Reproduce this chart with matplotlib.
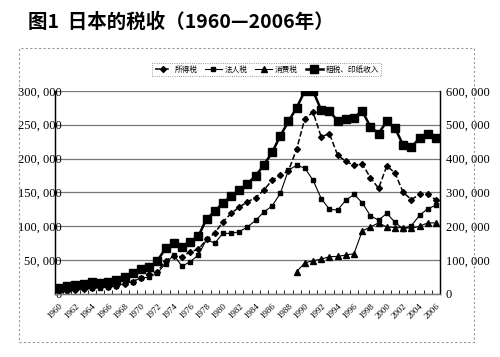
import matplotlib
matplotlib.use('Agg')
import matplotlib.pyplot as plt
import numpy as np
from matplotlib.patches import Rectangle

plt.rcParams['font.family'] = ['Noto Sans CJK SC', 'DejaVu Sans']

years = list(range(1960, 2007))

# 所得税 (left axis)
income_tax = [3.9, 4.9, 6.0, 6.9, 8.2, 9.7, 10.1, 12.1, 15.0, 18.3,
              24.3, 29.1, 33.0, 49.2, 56.0, 55.0, 62.4, 66.0, 80.5, 90.0,
              106.5, 119.0, 128.5, 136.0, 142.5, 153.5, 168.0, 175.0, 182.0, 214.0,
              259.0, 268.5, 232.0, 237.0, 205.0, 196.0, 190.0, 192.0, 172.0, 156.0,
              189.0, 179.0, 150.0, 139.5, 147.0, 147.0, 139.0]
# 法人税 (left axis)
corp_tax = [5.8, 7.2, 8.0, 8.2, 9.3, 9.3, 9.9, 12.4, 15.5, 18.2,
            24.0, 24.5, 31.0, 45.0, 57.5, 41.0, 47.6, 57.5, 80.5, 75.0,
            89.5, 89.5, 92.0, 99.0, 109.0, 121.0, 130.0, 148.5, 183.0, 190.0,
            186.0, 168.0, 141.0, 125.0, 124.0, 138.5, 147.0, 135.0, 115.5, 109.0,
            119.0, 106.0, 96.0, 101.0, 116.0, 126.0, 131.0]
# 消费税 (left axis), from 1989
cons_tax = [np.nan] * 29 + [33.0, 46.0, 49.0, 51.6, 55.0, 55.5, 57.5, 59.5, 93.0, 99.0,
                            105.0, 99.0, 98.0, 98.0, 97.0, 100.0, 105.0, 105.0]
# 租税、印纸收入 (right axis)
total_tax = [18.0, 23.6, 26.0, 30.2, 34.2, 32.8, 34.9, 42.5, 51.0, 61.2,
             73.0, 79.3, 98.0, 135.0, 151.0, 138.0, 154.0, 171.0, 221.0, 244.0,
             269.0, 289.0, 307.0, 326.0, 349.0, 381.0, 418.0, 467.0, 510.0, 550.0,
             600.0, 600.0, 543.0, 541.0, 511.0, 518.0, 521.0, 541.0, 494.0, 474.0,
             510.0, 490.0, 440.0, 434.0, 460.0, 473.0, 461.0]

income_tax = np.array(income_tax) * 1000
corp_tax = np.array(corp_tax) * 1000
cons_tax = np.array(cons_tax) * 1000
total_tax = np.array(total_tax) * 1000

x = np.arange(len(years))

fig = plt.figure(figsize=(5, 3.57), dpi=100)
fig.text(0.056, 0.938, '图1  日本的税收（1960—2006年）', fontsize=14,
         fontweight='bold', ha='left', va='center')

fig.add_artist(Rectangle((0.038, 0.042), 0.91, 0.824, transform=fig.transFigure,
                         fill=False, ec='#999999', lw=0.8, ls=(0, (2, 2))))

ax = fig.add_axes([0.11, 0.1765, 0.77, 0.569])
ax2 = ax.twinx()

ax.plot(x, income_tax, color='black', ls='--', lw=1.1, marker='D', ms=3, label='所得税')
ax.plot(x, corp_tax, color='black', ls='-', lw=0.8, marker='s', ms=3.2, label='法人税')
ax.plot(x, cons_tax, color='black', ls='-', lw=0.8, marker='^', ms=5, label='消费税')
ax2.plot(x, total_tax, color='black', ls='-', lw=1.8, marker='s', ms=5.5, label='租税、印纸收入')

ax.set_xlim(-0.5, len(years) - 0.5)
ax.set_ylim(0, 300000)
ax2.set_ylim(0, 600000)

yt = np.arange(0, 300001, 50000)
ax.set_yticks(yt)
ax.set_yticklabels([f'{v:,}'.replace(',', ', ') for v in yt], family='Liberation Serif', fontsize=9)
yt2 = np.arange(0, 600001, 100000)
ax2.set_yticks(yt2)
ax2.set_yticklabels([f'{v:,}'.replace(',', ', ') for v in yt2], family='Liberation Serif', fontsize=9)
ax.tick_params(axis='y', length=0, pad=-5)
ax2.tick_params(axis='y', length=0, pad=4)

ax.set_xticks(x[::2])
ax.set_xticklabels([str(y) for y in years[::2]], rotation=45, ha='right',
                   rotation_mode='anchor', fontsize=6.5, family='Liberation Serif')
ax.set_xticks(np.arange(-0.5, len(years), 1), minor=True)
ax.tick_params(axis='x', which='major', length=0, pad=6)
ax.tick_params(axis='x', which='minor', length=3, direction='in', width=0.6)

ax.grid(axis='y', color='#777777', lw=0.9)
ax.set_axisbelow(True)
for a in (ax, ax2):
    a.spines['top'].set_visible(False)
    a.spines['left'].set_linewidth(0.9)
    a.spines['right'].set_linewidth(0.9)
    a.spines['bottom'].set_linewidth(0.9)
    a.spines['bottom'].set_color('#777777')

h1, l1 = ax.get_legend_handles_labels()
h2, l2 = ax2.get_legend_handles_labels()
leg = ax.legend(h1 + h2, l1 + l2, loc='center', bbox_to_anchor=(0.55, 1.105), ncol=4,
                fontsize=5.5, frameon=True, fancybox=False, handlelength=2.2,
                columnspacing=1.0, handletextpad=0.4, borderpad=0.3)
leg.get_frame().set_edgecolor('#555555')
leg.get_frame().set_linewidth(0.6)
leg.get_frame().set_linestyle(':')

fig.savefig('out.png', dpi=100)
